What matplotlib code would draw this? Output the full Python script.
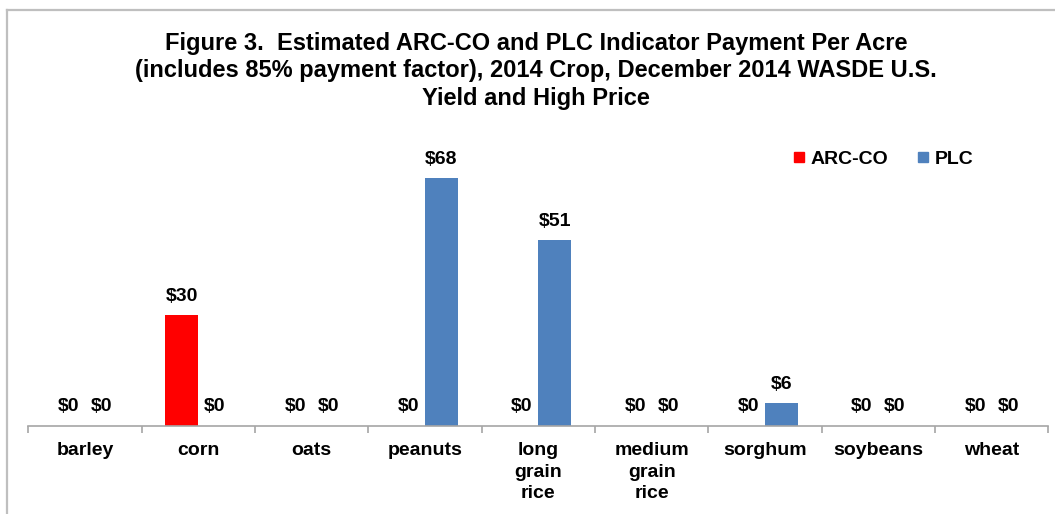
import matplotlib
matplotlib.use("Agg")
import matplotlib.pyplot as plt
from matplotlib.lines import Line2D
from matplotlib import font_manager
import numpy as np

categories = ["barley", "corn", "oats", "peanuts", "long\ngrain\nrice",
              "medium\ngrain\nrice", "sorghum", "soybeans", "wheat"]
arc_co = [0, 30.4, 0, 0, 0, 0, 0, 0, 0]
plc = [0, 0, 0, 68.0, 51.0, 0, 6.2, 0, 0]
series_names = ["ARC-CO", "PLC"]
colors = ["#FF0000", "#4F81BD"]
title = ("Figure 3.  Estimated ARC-CO and PLC Indicator Payment Per Acre\n"
         "(includes 85% payment factor), 2014 Crop, December 2014 WASDE U.S.\n"
         "Yield and High Price")

names = {f.name for f in font_manager.fontManager.ttflist}
base = "Liberation Sans" if "Liberation Sans" in names else "DejaVu Sans"
plt.rcParams["font.family"] = [base, "DejaVu Sans"]

W, H = 1055, 514
fig = plt.figure(figsize=(W / 100, H / 100), dpi=100)
fig.patch.set_facecolor("white")

ax_left, ax_right = 28.3 / W, 1048.3 / W
ax_bottom = (H - 425.7) / H
ax_top = (H - 150) / H
ax = fig.add_axes([ax_left, ax_bottom, ax_right - ax_left, ax_top - ax_bottom])

n = len(categories)
x = np.arange(n)
bw = 0.29
b1 = ax.bar(x - bw / 2, arc_co, bw, color=colors[0], label=series_names[0])
b2 = ax.bar(x + bw / 2, plc, bw, color=colors[1], label=series_names[1])

for bars, vals in ((b1, arc_co), (b2, plc)):
    for rect, v in zip(bars, vals):
        ax.annotate(f"${v:.0f}", (rect.get_x() + rect.get_width() / 2, v),
                    xytext=(0, 13.5), textcoords="offset points",
                    ha="center", va="center", fontsize=14, fontweight="bold")

ax.set_xlim(-0.5, n - 0.5)
ax.set_ylim(0, 275.7 / 3.64)
ax.set_xticks(x)
ax.set_xticklabels(categories, fontsize=14, fontweight="bold", linespacing=1.35)
ax.tick_params(axis="x", which="major", length=0, pad=12)
ax.set_xticks(np.arange(n + 1) - 0.5, minor=True)
ax.tick_params(axis="x", which="minor", length=5, color="#A6A6A6", width=1.2)
ax.set_yticks([])
for s in ("left", "right", "top"):
    ax.spines[s].set_visible(False)
ax.spines["bottom"].set_color("#A6A6A6")
ax.spines["bottom"].set_linewidth(1.2)

fig.text(536 / W, 1 - 71 / H, title, ha="center", va="center",
         fontsize=17, fontweight="bold", linespacing=1.25)

handles = [Line2D([], [], marker="s", linestyle="", markersize=7,
                  markerfacecolor=c, markeredgecolor=c) for c in colors]
fig.legend(handles, series_names, loc="center left",
           bbox_to_anchor=(789 / W, 1 - 159 / H), ncol=2, frameon=False,
           prop={"size": 14, "weight": "bold"}, handletextpad=0.1,
           columnspacing=1.3, handlelength=1.0, borderpad=0, borderaxespad=0)

# outer chart frame
fc = "#BFBFBF"
fig.add_artist(Line2D([7 / W, 7 / W], [0, 1 - 10 / H], transform=fig.transFigure,
                      color=fc, lw=1.6))
fig.add_artist(Line2D([7 / W, 1], [1 - 10 / H, 1 - 10 / H], transform=fig.transFigure,
                      color=fc, lw=1.6))

fig.savefig("out.png", dpi=100, facecolor="white")
